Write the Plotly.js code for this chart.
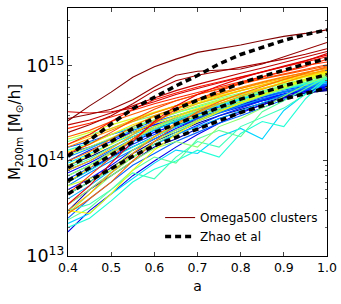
<!DOCTYPE html>
<html><head><meta charset="utf-8">
<script src="https://cdn.plot.ly/plotly-3.0.1.min.js"></script>
<style>html,body{margin:0;padding:0;background:#fff}#chart{width:341px;height:304px}</style>
</head><body><div id="chart"></div>
<script>
// scale factor a
const aGrid = [0.40,0.45,0.50,0.55,0.60,0.65,0.70,0.75,0.80,0.85,0.90,0.95,1.00];
// Omega500 cluster mass histories, M200m in units of 1e14 Msun/h, ordered by final mass
const clusterTracks = [
 [0.9,1.1,1.4,1.8,2.2,2.6,2.9,3.3,3.8,4.3,4.8,5.2,5.5],
 [0.45,0.6,0.85,1.2,1.6,2.0,2.5,3.0,3.5,4.1,4.7,5.2,5.6],
 [0.3,0.5,0.7,1.0,1.4,1.7,2.2,2.8,3.3,3.9,4.6,5.2,5.7],
 [1.2,1.4,1.7,2.0,2.4,2.7,3.1,3.5,4.0,4.5,5.0,5.4,5.8],
 [0.6,0.8,1.1,1.4,1.8,2.3,2.7,3.2,3.7,4.3,4.9,5.5,5.9],
 [0.18,0.3,0.45,0.7,1.0,1.4,1.9,2.5,3.2,3.9,4.6,5.4,6.0],
 [0.75,0.95,1.25,1.6,2.0,2.4,2.8,3.3,3.8,4.4,5.0,5.6,6.0],
 [0.5,0.65,0.9,1.3,1.7,2.2,2.7,3.3,3.9,4.5,5.1,5.6,6.1],
 [1.0,1.3,1.6,2.0,2.4,2.8,3.3,3.7,4.2,4.7,5.3,5.8,6.2],
 [0.35,0.5,0.75,1.1,1.5,1.9,2.4,3.0,3.6,4.3,5.0,5.7,6.2],
 [0.65,0.85,1.1,1.5,1.9,2.3,2.8,3.4,4.0,4.7,5.3,5.9,6.3],
 [1.4,1.6,1.9,2.2,2.6,3.0,3.5,4.0,4.5,5.1,5.6,6.1,6.4],
 [0.25,0.4,0.6,0.9,1.2,1.6,2.0,2.5,3.0,3.6,4.4,5.6,6.4],
 [0.8,1.0,1.3,1.7,2.1,2.6,3.1,3.6,4.2,4.8,5.4,6.0,6.5],
 [0.55,0.75,1.0,1.3,1.7,2.1,2.6,3.2,3.8,4.5,5.3,6.0,6.7],
 [1.1,1.35,1.7,2.1,2.5,3.0,3.5,4.0,4.6,5.2,5.8,6.3,6.8],
 [0.4,0.55,0.8,1.1,1.5,1.9,2.3,2.8,3.4,4.1,5.0,6.0,6.9],
 [0.7,0.9,1.2,1.6,2.1,2.6,3.2,3.8,4.4,5.0,5.7,6.3,7.0],
 [0.22,0.28,0.45,0.65,0.95,1.3,1.2,1.8,2.2,1.7,3.4,5.1,7.0],
 [0.95,1.2,1.5,1.9,2.3,2.8,3.3,3.9,4.5,5.1,5.8,6.5,7.1],
 [0.6,0.8,1.05,1.4,1.8,2.3,2.9,3.5,4.2,4.9,5.7,6.5,7.3],
 [0.2,0.25,0.38,0.6,0.82,1.0,1.3,1.1,1.95,2.6,2.3,4.5,7.3],
 [1.3,1.55,1.9,2.3,2.7,3.2,3.7,4.3,4.9,5.5,6.1,6.7,7.4],
 [0.3,0.35,0.5,0.75,0.65,1.1,1.6,1.4,2.3,2.9,3.6,5.0,7.5],
 [0.85,1.05,1.4,1.8,2.2,2.7,3.3,3.9,4.6,5.3,6.0,6.8,7.6],
 [0.24,0.32,0.5,0.8,1.1,0.95,1.7,2.1,1.8,3.3,4.3,5.8,7.7],
 [0.45,0.6,0.8,1.1,1.5,2.0,2.6,3.3,4.0,4.8,5.7,6.7,7.7],
 [1.6,1.9,2.2,2.6,3.0,3.5,4.0,4.6,5.2,5.8,6.4,7.1,7.8],
 [0.28,0.45,0.7,1.0,1.35,1.6,1.4,2.3,2.8,3.6,4.8,6.3,7.9],
 [0.7,0.9,1.25,1.7,2.2,2.8,3.4,4.0,4.7,5.4,6.2,7.1,8.0],
 [1.15,1.4,1.75,2.2,2.7,3.2,3.8,4.4,5.1,5.8,6.5,7.3,8.1],
 [0.35,0.5,0.75,1.1,1.6,2.1,2.7,3.4,4.1,4.9,5.8,7.0,8.2],
 [0.55,0.65,0.8,1.3,1.8,2.4,3.0,3.6,4.3,5.1,6.0,7.1,8.3],
 [1.7,2.0,2.4,2.8,3.3,3.8,4.3,4.9,5.5,6.2,6.9,7.7,8.4],
 [0.9,1.15,1.5,2.0,2.5,3.0,3.6,4.3,5.0,5.8,6.7,7.6,8.5],
 [0.3,0.28,0.45,0.8,1.3,1.9,2.6,3.3,4.1,5.0,6.0,7.3,8.6],
 [1.25,1.5,1.9,2.4,2.9,3.5,4.1,4.8,5.5,6.3,7.1,7.9,8.7],
 [0.6,0.85,1.2,1.7,2.3,2.9,3.5,4.2,5.0,5.8,6.7,7.8,8.8],
 [1.5,1.8,2.2,2.7,3.2,3.8,4.4,5.1,5.8,6.6,7.4,8.2,8.9],
 [0.8,1.0,1.35,1.9,2.6,3.3,4.0,4.7,5.5,6.3,7.2,8.2,9.0],
 [0.3,0.45,0.75,1.2,1.8,2.5,3.2,4.0,4.8,5.7,6.7,7.9,9.2],
 [1.4,1.7,2.1,2.6,3.2,3.8,4.5,5.2,6.0,6.8,7.7,8.5,9.4],
 [1.0,1.25,1.7,2.3,3.0,3.6,4.3,5.0,5.8,6.7,7.6,8.6,9.6],
 [0.28,0.4,0.6,1.0,1.6,2.4,3.3,4.2,5.1,6.1,7.2,8.4,9.8],
 [1.8,2.1,2.6,3.1,3.7,4.3,5.0,5.7,6.5,7.3,8.1,9.0,10.0],
 [1.2,1.5,2.0,2.7,3.5,4.3,5.0,5.8,6.6,7.4,8.3,9.3,10.3],
 [0.45,0.7,1.1,1.7,2.5,3.5,4.5,5.5,6.6,7.7,8.9,10.1,11.0],
 [2.2,2.5,2.9,3.4,4.0,4.6,5.3,6.0,6.8,7.7,8.7,9.8,11.8],
 [1.5,1.9,2.6,3.5,4.4,5.2,6.0,6.8,7.7,8.7,9.8,11.0,12.5],
 [0.35,0.55,0.95,1.6,2.6,3.8,5.0,6.2,7.4,8.7,10.0,11.5,13.0],
 [3.3,3.2,3.3,3.6,4.2,5.0,5.8,6.7,7.6,8.6,9.8,11.3,13.5],
 [2.4,2.7,3.2,3.8,4.6,5.5,6.4,7.4,8.4,9.5,10.8,12.3,14.2],
 [2.0,2.4,3.0,4.0,5.5,7.0,8.0,8.8,9.6,10.6,11.8,13.3,15.2],
 [2.8,3.1,3.5,4.4,6.0,8.0,8.8,9.0,9.3,10.5,12.5,15.0,17.7],
 [2.65,3.8,5.3,7.6,9.8,11.8,13.9,15.2,16.6,18.5,20.5,22.0,24.0]
];
// Zhao et al model tracks, units of 1e14 Msun/h
const zhaoA = [1.12,1.66,2.45,3.55,4.68,6.17,7.94,10.5,13.2,15.8,18.6,21.4,24.0];
const zhaoB = [0.85,1.17,1.58,2.19,2.82,3.55,4.37,5.37,6.61,7.76,9.12,10.5,11.9];
const zhaoC = [0.62,0.85,1.15,1.58,2.0,2.45,3.02,3.72,4.47,5.25,6.17,7.08,8.13];
const zhaoD = [0.45,0.62,0.83,1.12,1.45,1.78,2.19,2.69,3.24,3.80,4.47,5.13,5.89];
const massUnit = 1e14;

function jet(x){
  function seg(pts){
    for(let i=0;i<pts.length-1;i++){
      const [x0,y0]=pts[i],[x1,y1]=pts[i+1];
      if(x>=x0&&x<=x1) return y0+(y1-y0)*(x-x0)/(x1-x0);
    }
    return pts[pts.length-1][1];
  }
  const r=seg([[0,0],[0.35,0],[0.66,1],[0.89,1],[1,0.5]]);
  const g=seg([[0,0],[0.125,0],[0.375,1],[0.64,1],[0.91,0],[1,0]]);
  const b=seg([[0,0.5],[0.11,1],[0.34,1],[0.65,0],[1,0]]);
  return `rgb(${Math.round(r*255)},${Math.round(g*255)},${Math.round(b*255)})`;
}

const traces = [];
const n = clusterTracks.length;
for(let i=0;i<n;i++){
  traces.push({
    x: aGrid, y: clusterTracks[i].map(v=>v*massUnit), type:'scatter', mode:'lines',
    line:{color: jet(i/(n-1)), width:1.1},
    name: 'Omega500 clusters', showlegend: i===n-1, legendrank: 1, hoverinfo:'skip'
  });
}
const zhaoSets = [zhaoA, zhaoB, zhaoC, zhaoD];
zhaoSets.forEach((z,k)=>{
  traces.push({
    x: aGrid, y: z.map(v=>v*massUnit), type:'scatter', mode:'lines',
    line:{color:'black', width:3.5, dash:'6px,4px'},
    name:'Zhao et al', showlegend: k===0, legendrank: 2, hoverinfo:'skip'
  });
});

const layout = {
  width:341, height:304,
  margin:{l:68, r:14, t:8, b:48},
  paper_bgcolor:'white', plot_bgcolor:'white',
  font: {family:'DejaVu Sans, sans-serif', size:12, color:'black'},
  showlegend:true,
  legend:{x:0.985, y:0.02, xanchor:'right', yanchor:'bottom', bgcolor:'rgba(0,0,0,0)',
          font:{family:'DejaVu Sans, sans-serif', size:12, color:'black'}, tracegroupgap:0, itemwidth:30},
  xaxis:{
    range:[0.4,1.0], dtick:0.1, tick0:0.4, tickformat:'.1f',
    tickfont:{family:'DejaVu Sans, sans-serif', size:12.5, color:'black'},
    showgrid:false, zeroline:false, showline:true, linecolor:'black', linewidth:1, mirror:'allticks',
    ticks:'inside', ticklen:4, tickcolor:'#444',
    title:{text:'a', font:{family:'DejaVu Sans, sans-serif', size:14, color:'black'}, standoff:7}
  },
  yaxis:{
    type:'log', range:[13, 15.61], dtick:1, exponentformat:'power',
    tickfont:{family:'DejaVu Sans, sans-serif', size:14, color:'black'},
    showgrid:false, zeroline:false, showline:true, linecolor:'black', linewidth:1, mirror:'allticks',
    ticks:'inside', ticklen:4, tickcolor:'#444',
    minor:{ticks:'inside', ticklen:2, tickcolor:'#666', dtick:'D1', showgrid:false},
    title:{text:'M<sub>200m</sub> [M<sub>\u2299</sub>/h]', font:{family:'DejaVu Sans, sans-serif', size:15, color:'black'}, standoff:2}
  }
};
Plotly.newPlot('chart', traces, layout, {staticPlot:true, displayModeBar:false});
</script></body></html>
